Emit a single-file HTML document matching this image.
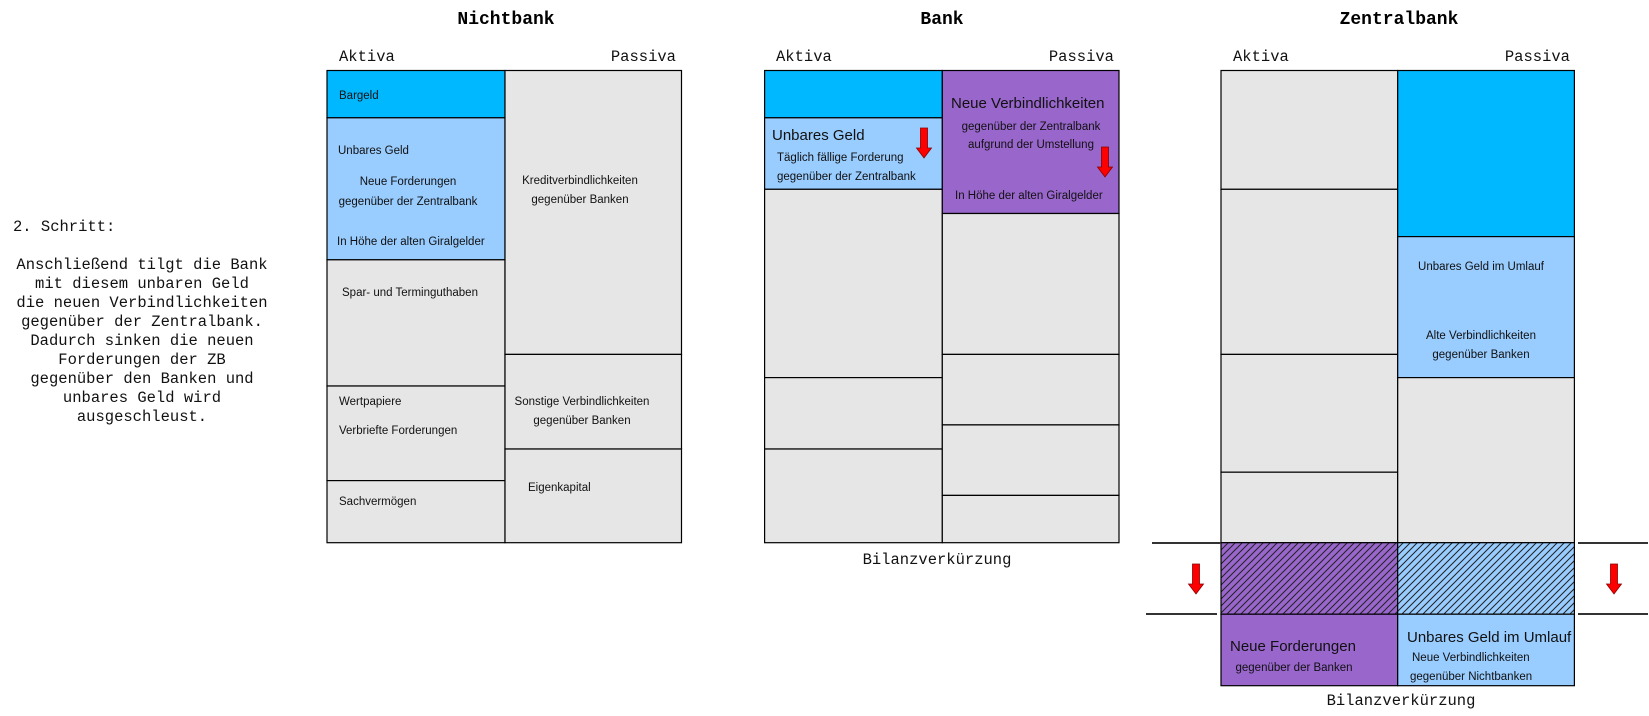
<!DOCTYPE html>
<html><head><meta charset="utf-8"><style>
html,body{margin:0;padding:0;background:#fff}
svg{display:block}
.s{font-family:"Liberation Sans",sans-serif;font-size:11.5px;fill:#111}
.l{font-family:"Liberation Sans",sans-serif;font-size:15px;fill:#111}
.m{font-family:"Liberation Mono",monospace;font-size:15.5px;fill:#111}
.t{font-family:"Liberation Mono",monospace;font-size:18px;font-weight:bold;fill:#000}
.p{font-family:"Liberation Mono",monospace;font-size:15.5px;fill:#111}
</style></head><body>
<svg width="1649" height="716" xmlns="http://www.w3.org/2000/svg">
<defs>
<pattern id="h1" patternUnits="userSpaceOnUse" width="7" height="7" patternTransform="rotate(0)">
<rect width="7" height="7" fill="#9966cc"/><path d="M-1,8 L8,-1 M-1,1 L1,-1 M6,8 L8,6" stroke="#222" stroke-width="1"/></pattern>
<pattern id="h2" patternUnits="userSpaceOnUse" width="7" height="7">
<rect width="7" height="7" fill="#99ccff"/><path d="M-1,8 L8,-1 M-1,1 L1,-1 M6,8 L8,6" stroke="#222" stroke-width="1"/></pattern>
<g id="arr"><path d="M-3.5,0 H3.5 V20 H7.5 L0,30 L-7.5,20 H-3.5 Z" fill="#ff0000" stroke="#800" stroke-width="0.8"/></g>
</defs>

<!-- left text -->
<g class="m">
<text x="13" y="231">2. Schritt:</text>
<g text-anchor="middle">
<text x="142" y="269">Anschließend tilgt die Bank</text>
<text x="142" y="288">mit diesem unbaren Geld</text>
<text x="142" y="307">die neuen Verbindlichkeiten</text>
<text x="142" y="326">gegenüber der Zentralbank.</text>
<text x="142" y="345">Dadurch sinken die neuen</text>
<text x="142" y="364">Forderungen der ZB</text>
<text x="142" y="383">gegenüber den Banken und</text>
<text x="142" y="402">unbares Geld wird</text>
<text x="142" y="421">ausgeschleust.</text>
</g></g>

<!-- titles -->
<text class="t" x="506" y="24" text-anchor="middle">Nichtbank</text>
<text class="t" x="942" y="24" text-anchor="middle">Bank</text>
<text class="t" x="1399" y="24" text-anchor="middle">Zentralbank</text>
<g class="p">
<text x="339" y="61">Aktiva</text><text x="676" y="61" text-anchor="end">Passiva</text>
<text x="776" y="61">Aktiva</text><text x="1114" y="61" text-anchor="end">Passiva</text>
<text x="1233" y="61">Aktiva</text><text x="1570" y="61" text-anchor="end">Passiva</text>
</g>

<g stroke="#000" stroke-width="1.2">
<!-- Nichtbank -->
<rect x="327" y="70.5" width="178" height="47.3" fill="#00b8ff"/>
<rect x="327" y="117.8" width="178" height="142" fill="#99ccff"/>
<rect x="327" y="259.8" width="178" height="126.2" fill="#e6e6e6"/>
<rect x="327" y="386" width="178" height="94.6" fill="#e6e6e6"/>
<rect x="327" y="480.6" width="178" height="62.1" fill="#e6e6e6"/>
<rect x="505" y="70.5" width="176.5" height="283.9" fill="#e6e6e6"/>
<rect x="505" y="354.4" width="176.5" height="94.6" fill="#e6e6e6"/>
<rect x="505" y="449" width="176.5" height="93.7" fill="#e6e6e6"/>
<!-- Bank -->
<rect x="764.6" y="70.5" width="177.7" height="47.3" fill="#00b8ff"/>
<rect x="764.6" y="117.8" width="177.7" height="71.5" fill="#99ccff"/>
<rect x="764.6" y="189.3" width="177.7" height="188.3" fill="#e6e6e6"/>
<rect x="764.6" y="377.6" width="177.7" height="71.4" fill="#e6e6e6"/>
<rect x="764.6" y="449" width="177.7" height="93.7" fill="#e6e6e6"/>
<rect x="942.3" y="70.5" width="176.7" height="143" fill="#9966cc"/>
<rect x="942.3" y="213.5" width="176.7" height="140.9" fill="#e6e6e6"/>
<rect x="942.3" y="354.4" width="176.7" height="70.5" fill="#e6e6e6"/>
<rect x="942.3" y="424.9" width="176.7" height="70.5" fill="#e6e6e6"/>
<rect x="942.3" y="495.4" width="176.7" height="47.3" fill="#e6e6e6"/>
<!-- ZB -->
<rect x="1221" y="70.5" width="176.7" height="118.8" fill="#e6e6e6"/>
<rect x="1221" y="189.3" width="176.7" height="165.1" fill="#e6e6e6"/>
<rect x="1221" y="354.4" width="176.7" height="117.8" fill="#e6e6e6"/>
<rect x="1221" y="472.2" width="176.7" height="70.5" fill="#e6e6e6"/>
<rect x="1221" y="542.7" width="176.7" height="71.5" fill="url(#h1)"/>
<rect x="1221" y="614.2" width="176.7" height="71.5" fill="#9966cc"/>
<rect x="1397.7" y="70.5" width="176.7" height="166.1" fill="#00b8ff"/>
<rect x="1397.7" y="236.6" width="176.7" height="141" fill="#99ccff"/>
<rect x="1397.7" y="377.6" width="176.7" height="165.1" fill="#e6e6e6"/>
<rect x="1397.7" y="542.7" width="176.7" height="71.5" fill="url(#h2)"/>
<rect x="1397.7" y="614.2" width="176.7" height="71.5" fill="#99ccff"/>
</g>
<g stroke="#333" stroke-width="2">
<line x1="1152" y1="543" x2="1221" y2="543"/>
<line x1="1146" y1="614" x2="1217" y2="614"/>
<line x1="1578" y1="543" x2="1648" y2="543"/>
<line x1="1578" y1="614" x2="1648" y2="614"/>
</g>

<use href="#arr" x="924" y="128"/>
<use href="#arr" x="1105" y="147"/>
<use href="#arr" x="1196" y="564"/>
<use href="#arr" x="1614" y="564"/>

<g class="s">
<text x="339" y="99">Bargeld</text>
<text x="338" y="154">Unbares Geld</text>
<text x="408" y="185" text-anchor="middle">Neue Forderungen</text>
<text x="408" y="205" text-anchor="middle">gegenüber der Zentralbank</text>
<text x="337" y="245">In Höhe der alten Giralgelder</text>
<text x="342" y="296">Spar- und Terminguthaben</text>
<text x="339" y="405">Wertpapiere</text>
<text x="339" y="434">Verbriefte Forderungen</text>
<text x="339" y="505">Sachvermögen</text>
<text x="580" y="184" text-anchor="middle">Kreditverbindlichkeiten</text>
<text x="580" y="203" text-anchor="middle">gegenüber Banken</text>
<text x="582" y="405" text-anchor="middle">Sonstige Verbindlichkeiten</text>
<text x="582" y="424" text-anchor="middle">gegenüber Banken</text>
<text x="528" y="491">Eigenkapital</text>
<text x="777" y="161">Täglich fällige Forderung</text>
<text x="777" y="180">gegenüber der Zentralbank</text>
<text x="1031" y="130" text-anchor="middle">gegenüber der Zentralbank</text>
<text x="1031" y="148" text-anchor="middle">aufgrund der Umstellung</text>
<text x="955" y="199">In Höhe der alten Giralgelder</text>
<text x="1481" y="270" text-anchor="middle">Unbares Geld im Umlauf</text>
<text x="1481" y="339" text-anchor="middle">Alte Verbindlichkeiten</text>
<text x="1481" y="358" text-anchor="middle">gegenüber Banken</text>
<text x="1294" y="671" text-anchor="middle">gegenüber der Banken</text>
<text x="1412" y="661">Neue Verbindlichkeiten</text>
<text x="1410" y="680">gegenüber Nichtbanken</text>
</g>
<g class="l">
<text x="772" y="140">Unbares Geld</text>
<text x="951" y="108">Neue Verbindlichkeiten</text>
<text x="1230" y="651">Neue Forderungen</text>
<text x="1407" y="642">Unbares Geld im Umlauf</text>
</g>
<text class="p" x="937" y="564" text-anchor="middle">Bilanzverkürzung</text>
<text class="p" x="1401" y="705" text-anchor="middle">Bilanzverkürzung</text>
</svg>
</body></html>
